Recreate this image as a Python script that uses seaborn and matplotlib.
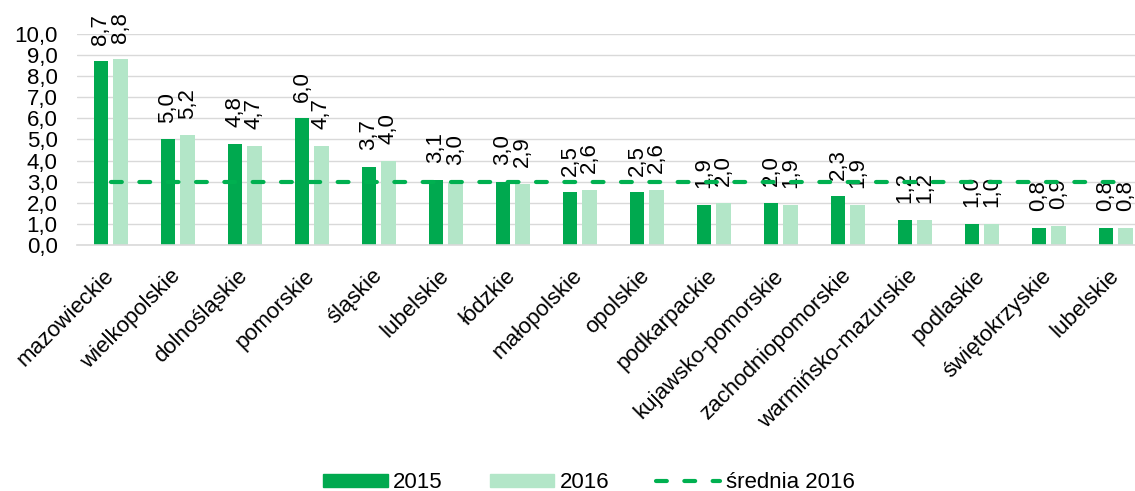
import pandas as pd
import matplotlib.pyplot as plt
import seaborn as sns
from matplotlib.patches import Patch
from matplotlib.lines import Line2D
import matplotlib.transforms as mtransforms

# Data
regions = ['mazowieckie', 'wielkopolskie', 'dolnośląskie', 'pomorskie', 'śląskie',
           'lubelskie', 'łódzkie', 'małopolskie', 'opolskie', 'podkarpackie',
           'kujawsko-pomorskie', 'zachodniopomorskie', 'warmińsko-mazurskie',
           'podlaskie', 'świętokrzyskie', 'lubelskie']
values_2015 = [8.7, 5.0, 4.8, 6.0, 3.7, 3.1, 3.0, 2.5, 2.5, 1.9, 2.0, 2.3, 1.2, 1.0, 0.8, 0.8]
values_2016 = [8.8, 5.2, 4.7, 4.7, 4.0, 3.0, 2.9, 2.6, 2.6, 2.0, 1.9, 1.9, 1.2, 1.0, 0.9, 0.8]
avg_2016 = 3.0

dark_green = '#00A94F'
light_green = '#B3E6C8'
line_green = '#00B050'
dash_style = (2.6, 4.2)

sns.set_style('white', {'text.color': 'black', 'xtick.color': 'black',
                        'ytick.color': 'black'})
plt.rcParams['font.family'] = ['Liberation Sans', 'DejaVu Sans']

# positions as keys, since 'lubelskie' appears twice
keys = [str(i) for i in range(len(regions))]
df = pd.DataFrame({
    'key': keys * 2,
    'value': values_2015 + values_2016,
    'year': ['2015'] * len(keys) + ['2016'] * len(keys),
})

fig = plt.figure(figsize=(11.35, 4.91), dpi=100)
# plot area runs slightly past the right edge, as in the original (cropped)
ax = fig.add_axes([0.068, 0.501, 0.9445, 0.430])

sns.barplot(data=df, x='key', y='value', hue='year', order=keys,
            palette=[dark_green, light_green], saturation=1, width=0.58, gap=0.24,
            legend=False, ax=ax, linewidth=0)

# average line across category centres
sns.lineplot(x=list(range(len(keys))), y=[avg_2016] * len(keys), ax=ax,
             color=line_green, linewidth=3)
avg_line = ax.lines[-1]
avg_line.set_dashes(dash_style)
avg_line.set_dash_capstyle('round')
avg_line.set_zorder(5)

# value labels
for cont in ax.containers:
    labels = [f'{v:.1f}'.replace('.', ',') for v in cont.datavalues]
    ax.bar_label(cont, labels=labels, rotation=90, padding=12, fontsize=16,
                 color='black')

ax.set_xlim(-0.5, len(keys) - 0.5)
ax.set_ylim(0, 10)
ax.set_yticks(range(0, 11))
ax.set_yticklabels([f'{v:.1f}'.replace('.', ',') for v in range(0, 11)], fontsize=16)
ax.set_xticks(range(len(keys)))
ax.set_xticklabels(regions, rotation=45, ha='right', va='center',
                   rotation_mode='anchor', fontsize=16)
offset = mtransforms.ScaledTranslation(0.08, -0.03, fig.dpi_scale_trans)
for lbl in ax.get_xticklabels():
    lbl.set_transform(lbl.get_transform() + offset)

ax.set_xlabel('')
ax.set_ylabel('')
ax.tick_params(axis='both', length=0)
ax.tick_params(axis='y', pad=14)
ax.tick_params(axis='x', pad=20)
ax.yaxis.grid(True, color='#D9D9D9', linewidth=1)
ax.set_axisbelow(True)
for side in ['top', 'right', 'left']:
    ax.spines[side].set_visible(False)
ax.spines['bottom'].set_color('#D9D9D9')
ax.spines['bottom'].set_linewidth(1.2)

handles = [Patch(color=dark_green, label='2015'),
           Patch(color=light_green, label='2016'),
           Line2D([0], [0], color=line_green, linewidth=3, dashes=dash_style,
                  dash_capstyle='round', label='średnia 2016')]
fig.legend(handles=handles, loc='lower center', bbox_to_anchor=(0.519, -0.045),
           ncol=3, frameon=False, fontsize=16, handlelength=2.9, handleheight=0.55,
           handletextpad=0.25, columnspacing=2.1)

plt.savefig('out.png', dpi=100)
plt.close()
